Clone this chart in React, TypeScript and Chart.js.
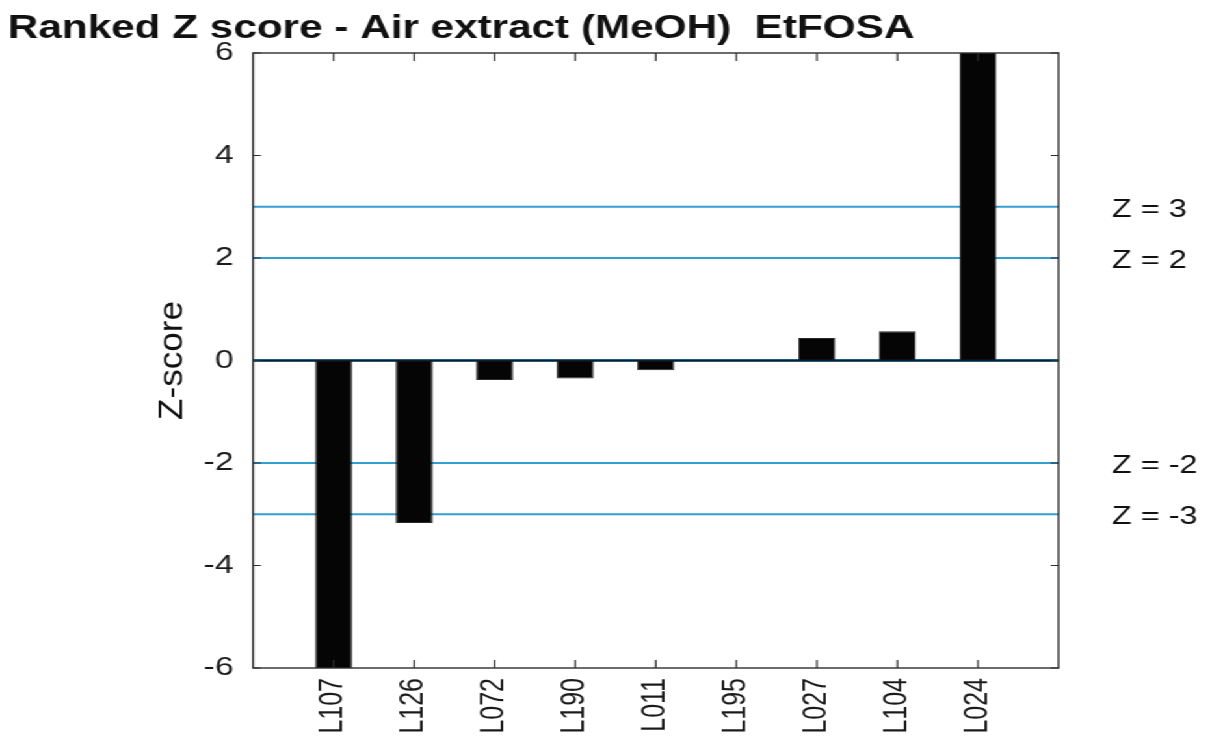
import React, { useEffect, useRef } from 'react';
import { Chart, registerables } from 'chart.js';

Chart.register(...registerables);

// ---- data ----
const categories = ['L107', 'L126', 'L072', 'L190', 'L011', 'L195', 'L027', 'L104', 'L024'];
const zScores = [-6.6, -3.17, -0.38, -0.35, -0.19, 0, 0.44, 0.57, 7.2];
const yTickValues = [-6, -4, -2, 0, 2, 4, 6];
const zLevels = [3, 2, 0, -2, -3];
const zLabelValues = [3, 2, -2, -3];
const zLabelTexts = ['Z = 3', 'Z = 2', 'Z = -2', 'Z = -3'];
const titleText = 'Ranked Z score - Air extract (MeOH)  EtFOSA';
const yAxisTitle = 'Z-score';

// the reference picture is stretched horizontally
const CANVAS_W = 942;
const CANVAS_H = 748;
const STRETCH = 1225 / CANVAS_W;
const FONT = '"Liberation Sans", Arial, Helvetica, sans-serif';

const labels = ['', ...categories, ''];
const barData = [null, ...zScores, null];

const decorPlugin = {
  id: 'decor',
  afterDraw(chart: any) {
    const ctx = chart.ctx;
    const { left, right, top, bottom } = chart.chartArea;
    const xs = chart.scales.x;
    const ys = chart.scales.y;
    ctx.save();
    // box
    ctx.strokeStyle = '#2e2e2e';
    ctx.lineWidth = 1.4;
    ctx.strokeRect(left, top, right - left, bottom - top);
    // inward tick marks
    ctx.lineWidth = 1.2;
    ctx.beginPath();
    for (let i = 1; i <= categories.length; i++) {
      const px = xs.getPixelForValue(i);
      ctx.moveTo(px, bottom);
      ctx.lineTo(px, bottom - 8);
      ctx.moveTo(px, top);
      ctx.lineTo(px, top + 8);
    }
    for (const v of yTickValues) {
      const py = ys.getPixelForValue(v);
      ctx.moveTo(left, py);
      ctx.lineTo(left + 6, py);
      ctx.moveTo(right, py);
      ctx.lineTo(right - 6, py);
    }
    ctx.stroke();

    // title
    ctx.fillStyle = '#111111';
    ctx.font = `bold 32.5px ${FONT}`;
    ctx.textAlign = 'left';
    ctx.textBaseline = 'alphabetic';
    ctx.fillText(titleText, 6, 38);

    // Z labels on the right
    ctx.font = `25px ${FONT}`;
    ctx.textBaseline = 'middle';
    zLabelValues.forEach((v, i) => {
      ctx.fillText(zLabelTexts[i], 855, ys.getPixelForValue(v) + 3);
    });

    // y axis title
    ctx.font = `25px ${FONT}`;
    const w = ctx.measureText(yAxisTitle).width;
    const k = 119 / w;
    ctx.translate(133, (top + bottom) / 2);
    ctx.rotate(-Math.PI / 2);
    ctx.scale(k, 1);
    ctx.textAlign = 'center';
    ctx.textBaseline = 'middle';
    ctx.fillText(yAxisTitle, 0, 0);
    ctx.restore();
  },
};

export default function App() {
  const canvasRef = useRef<HTMLCanvasElement | null>(null);

  useEffect(() => {
    const canvas = canvasRef.current;
    if (!canvas) return;
    const lineDatasets = zLevels.map((v) => ({
      type: 'line' as const,
      data: labels.map(() => v),
      borderColor: '#339fcf',
      borderWidth: v === 0 ? 3 : 2,
      pointRadius: 0,
      fill: false,
      order: 2,
      clip: 0,
    }));
    const chart = new Chart(canvas, {
      type: 'bar',
      data: {
        labels,
        datasets: [
          {
            type: 'bar',
            data: barData as any,
            backgroundColor: '#050505',
            borderColor: '#2a2a2a',
            borderWidth: 1,
            categoryPercentage: 1,
            barPercentage: 0.46,
            order: 1,
            clip: 0,
          } as any,
          ...lineDatasets,
          {
            type: 'line' as const,
            data: labels.map(() => 0),
            borderColor: '#141c2c',
            borderWidth: 2,
            pointRadius: 0,
            fill: false,
            order: 0,
            clip: 0,
          },
        ],
      },
      options: {
        responsive: false,
        animation: false,
        events: [],
        layout: { padding: { left: 0, right: 128, top: 53, bottom: 0 } },
        plugins: {
          legend: { display: false },
          tooltip: { enabled: false },
          title: { display: false },
        },
        scales: {
          x: {
            type: 'category',
            offset: false,
            grid: { display: false, drawTicks: false },
            border: { display: false },
            ticks: {
              autoSkip: false,
              maxRotation: 90,
              minRotation: 90,
              padding: 10,
              color: '#1a1a1a',
              font: { family: FONT, size: 25 },
            },
            afterFit(scale: any) {
              scale.height = 80;
            },
          },
          y: {
            min: -6,
            max: 6,
            grid: { display: false, drawTicks: false },
            border: { display: false },
            ticks: {
              stepSize: 2,
              padding: 15,
              color: '#1a1a1a',
              font: { family: FONT, size: 26 },
            },
            afterFit(scale: any) {
              scale.width = 194.6;
            },
          },
        },
      },
      plugins: [decorPlugin],
    });
    return () => chart.destroy();
  }, []);

  return (
    <div
      style={{
        position: 'fixed',
        left: 0,
        top: 0,
        width: CANVAS_W,
        height: CANVAS_H,
        transform: `scaleX(${STRETCH})`,
        transformOrigin: '0 0',
        background: '#ffffff',
      }}
    >
      <canvas ref={canvasRef} width={CANVAS_W} height={CANVAS_H} />
    </div>
  );
}
